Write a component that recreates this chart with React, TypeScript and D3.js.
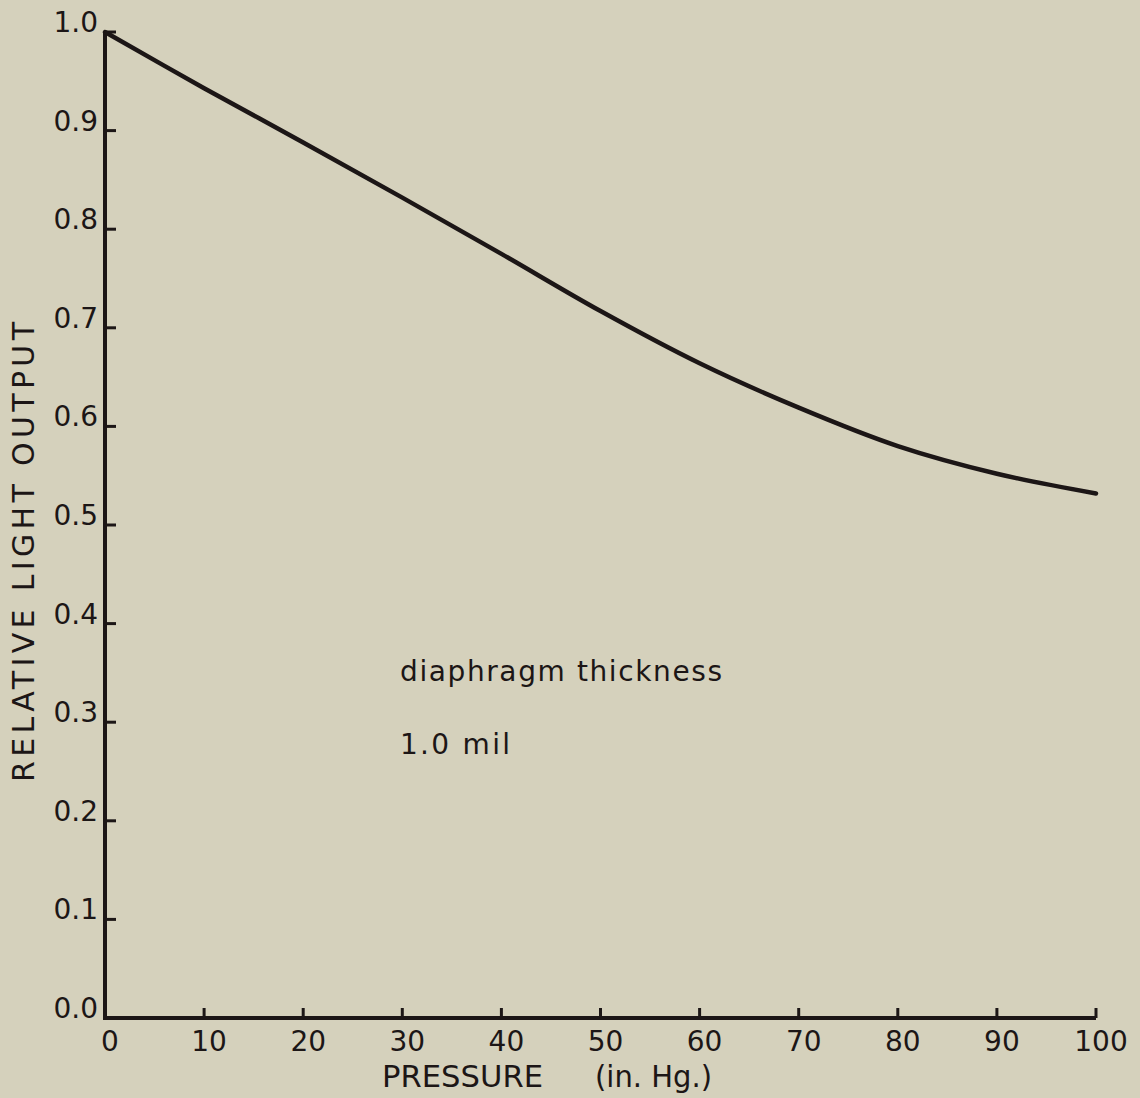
import * as d3 from "d3";

// readings, every 10 in. Hg
const pressure = [0, 10, 20, 30, 40, 50, 60, 70, 80, 90, 100];
const lightOutput = [1.0, 0.943, 0.888, 0.832, 0.775, 0.717, 0.664, 0.619, 0.58, 0.552, 0.532];

const xTicks = [0, 10, 20, 30, 40, 50, 60, 70, 80, 90, 100];
const yTicks = [0, 0.1, 0.2, 0.3, 0.4, 0.5, 0.6, 0.7, 0.8, 0.9, 1.0];

const W = 1140;
const H = 1098;
const ink = "#1c1616";
const paper = "#d5d1bc";
const font = "'DejaVu Sans', sans-serif";

export default function App() {
  const x = d3.scaleLinear().domain([0, 100]).range([105, 1096]);
  const y = d3.scaleLinear().domain([0, 1]).range([1018, 32]);

  const line = d3
    .line<number>()
    .x((_, i) => x(pressure[i]))
    .y(d => y(d))
    .curve(d3.curveCatmullRom.alpha(0.5));

  return (
    <svg
      width={W}
      height={H}
      style={{ position: "absolute", left: 0, top: 0, background: paper }}
    >
      <rect width={W} height={H} fill={paper} />

      {/* axes */}
      <line x1={x(0)} x2={x(0)} y1={y(1)} y2={y(0) + 2} stroke={ink} strokeWidth={4} />
      <line x1={x(0) - 2} x2={x(100)} y1={y(0)} y2={y(0)} stroke={ink} strokeWidth={4} />

      {yTicks.map(t => (
        <g key={"y" + t}>
          <line x1={x(0)} x2={x(0) + 11} y1={y(t)} y2={y(t)} stroke={ink} strokeWidth={3} />
          <text
            x={x(0) - 7}
            y={y(t)}
            textAnchor="end"
            fontFamily={font}
            fontSize={28}
            fill={ink}
          >
            {t.toFixed(1)}
          </text>
        </g>
      ))}

      {xTicks.map(t => (
        <g key={"x" + t}>
          <line x1={x(t)} x2={x(t)} y1={y(0)} y2={y(0) - 10} stroke={ink} strokeWidth={3} />
          <text
            x={x(t) + 5}
            y={1051}
            textAnchor="middle"
            fontFamily={font}
            fontSize={28}
            fill={ink}
          >
            {t}
          </text>
        </g>
      ))}

      {/* curve */}
      <path
        d={line(lightOutput) ?? ""}
        fill="none"
        stroke={ink}
        strokeWidth={4.5}
        strokeLinecap="round"
      />

      {/* axis titles */}
      <text x={382} y={1087} fontFamily={font} fontSize={30} fill={ink} textLength={161} lengthAdjust="spacingAndGlyphs">
        PRESSURE
      </text>
      <text x={595} y={1087} fontFamily={font} fontSize={30} fill={ink} textLength={117} lengthAdjust="spacingAndGlyphs">
        (in. Hg.)
      </text>
      <text
        transform="translate(34,552) rotate(-90)"
        textAnchor="middle"
        fontFamily={font}
        fontSize={30}
        fill={ink}
        textLength={460}
        lengthAdjust="spacing"
      >
        RELATIVE LIGHT OUTPUT
      </text>

      {/* annotation */}
      <text x={400} y={681} fontFamily={font} fontSize={28} fill={ink} textLength={322} lengthAdjust="spacing">
        diaphragm thickness
      </text>
      <text x={400} y={754} fontFamily={font} fontSize={28} fill={ink} textLength={110} lengthAdjust="spacing">
        1.0 mil
      </text>
    </svg>
  );
}
